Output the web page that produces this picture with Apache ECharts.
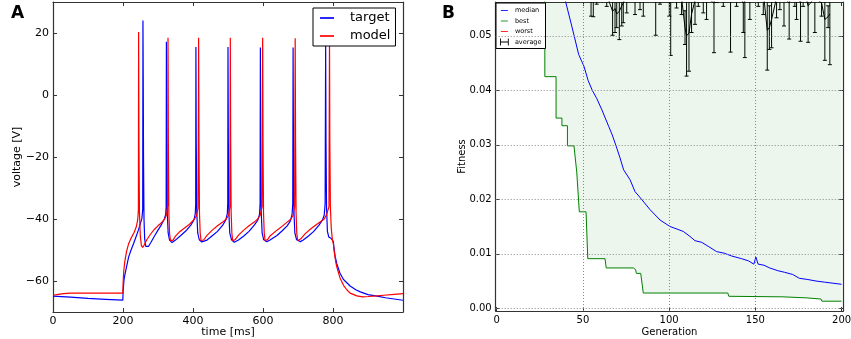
<!DOCTYPE html>
<html>
<head>
<meta charset="utf-8">
<script src="https://cdn.jsdelivr.net/npm/echarts@6.0.0/dist/echarts.min.js"></script>
<style>
  html, body { margin: 0; padding: 0; background: #fff; }
  #chart { width: 851px; height: 339px; }
</style>
</head>
<body>
<div id="chart"></div>
<script>
// panel A: voltage traces, [time ms, voltage]
const targetTrace = [
  [0, -64.9], [50, -65.2], [100, -65.6], [150, -65.9], [199.5, -66.2],
  [200.5, -63], [203, -59.5], [206, -57.6], [210, -55.5], [216, -52.3], [223, -50], [230, -48],
  [237, -45.8], [244, -43.6], [250, -41.3], [254, -39.8], [256.3, -37],
  [257, 24], [257.8, 5], [258.6, -20], [260, -40], [262, -46.5], [265, -48.8], [268.5, -49.3],
  [273, -48.8], [280, -47.5], [290, -45.5], [300, -43.6], [310, -41.8], [318, -40], [322, -38.5], [323.3, -36],
  [324, 17.2], [325, -15], [326.5, -38], [329, -44.5], [333, -46.8], [340, -47.6], [350, -46.8],
  [365, -45.3], [380, -43.8], [395, -41.8], [403, -40.2], [406.5, -38.3], [407.7, -35],
  [408.3, 15.5], [409.3, -15], [410.8, -38], [413.5, -44.5], [418, -46.7], [425, -47.4], [430, -47.5],
  [440, -46.8], [455, -45.4], [470, -44], [485, -42], [494, -40.2], [498, -38.3], [499.3, -35],
  [500, 15.5], [501, -15], [502.5, -38], [505, -44.5], [510, -46.7], [518, -47.5], [530, -46.8],
  [545, -45.5], [560, -44], [575, -42], [585, -40.4], [590, -38.5], [591.7, -35],
  [592.5, 15.3], [593.5, -15], [595, -38], [597.5, -44.5], [602, -46.7], [611, -47.3], [620, -46.8],
  [640, -45.3], [655, -43.8], [669, -42.2], [678, -40.7], [683, -38.5], [685, -35],
  [686, 15.3], [687, -15], [688.5, -38], [691, -44.5], [696, -46.7], [707, -47.3], [715, -46.8],
  [730, -45.5], [745, -44], [760, -42], [770, -40.3], [775, -38.7], [777.5, -35],
  [779, 16], [780, -15], [781.5, -36], [784, -44], [788, -45.8], [795, -46.3], [799, -46.8],
  [801, -47.3], [803, -49.5], [806, -52], [811, -54.5], [820, -57.5], [830, -59.5], [849, -61.6],
  [865, -62.8], [878, -63.5], [900, -64.4], [926, -64.9], [950, -65.4], [975, -65.8], [1000, -66.2]
];
const modelTrace = [
  [0, -64.6], [15, -64.3], [30, -64.05], [50, -63.9], [100, -63.9], [150, -63.9], [199.5, -63.9],
  [200.5, -60], [202, -57], [205, -53.8], [210, -50.5], [216, -48], [224, -46], [232, -44.3],
  [238, -42.5], [242, -40.3], [244, -37],
  [244.6, 20.3], [245.6, -15], [247, -38], [249.5, -45.5], [252.5, -48.5], [256, -49.2], [260, -48.5],
  [268, -46.7], [278, -45], [290, -43.3], [300, -42.2], [310, -41.2], [318, -40.2], [325, -38.5], [327.8, -35],
  [328.6, 18.5], [329.6, -15], [331, -38], [333, -44.5], [335.5, -47], [338, -47.6], [343, -46.8],
  [350, -45.5], [360, -44.3], [375, -43], [390, -41.7], [402, -40.3], [410, -39], [414.5, -36.5],
  [416, 18.5], [417, -15], [418.5, -38], [420.5, -44.5], [423, -47], [426, -47.5], [431, -46.7],
  [440, -45.3], [455, -43.6], [470, -42.2], [485, -41], [495, -40], [502, -38.7], [505.5, -36],
  [506.6, 18.5], [507.6, -15], [509, -38], [511, -44.5], [513.5, -47], [516, -47.4], [521, -46.6],
  [530, -45.2], [545, -43.6], [560, -42.2], [575, -41], [585, -40], [592, -38.8], [597.5, -36],
  [599, 18.5], [600, -15], [601.5, -38], [603.5, -44.5], [606, -47], [608.5, -47.3], [614, -46.5],
  [620, -45.5], [640, -43.6], [655, -42.3], [669, -41], [680, -40], [686, -38.8], [690.5, -36],
  [692, 18.3], [693, -15], [694.5, -38], [696.5, -44.5], [699, -47], [702, -47.3], [708, -46.4],
  [720, -44.8], [735, -43.3], [750, -42], [765, -40.8], [775, -40], [782, -38.5], [788.5, -36],
  [790, 18.5], [791, -15], [792.5, -36], [795, -43], [798, -46.5], [801, -48], [804, -51], [808, -54],
  [811, -55.5], [820, -59], [830, -61.4], [840, -62.9], [849, -63.9], [868, -64.8], [885, -65.1],
  [900, -65], [925, -64.8], [945, -64.6], [975, -64.3], [1000, -64.1]
];
const timeTicks = [0, 200, 400, 600, 800];
const voltTicks = [-60, -40, -20, 0, 20];

// panel B: fitness per generation
const medianGen = [38, 39.6, 43.5, 44.9, 47.5, 49.3, 50.6, 53, 55.4, 58, 61, 64.9, 67, 69.2, 71.5, 73.6,
  77.3, 80.2, 84, 88.9, 94.7, 100.5, 104, 108.2, 112, 115, 118.9, 123, 127.5, 132, 136.2, 142, 146,
  149.1, 150.3, 151.6, 155, 158.3, 163, 167, 171.7, 175.5, 180, 185.2, 190, 195, 200];
const medianVal = [0.0578, 0.0567, 0.0518, 0.0500, 0.0466, 0.0453, 0.0444, 0.0418, 0.0400, 0.0385,
  0.0364, 0.0334, 0.0318, 0.0298, 0.0276, 0.0254, 0.0236, 0.0214, 0.0200, 0.0181, 0.0162, 0.0150,
  0.0146, 0.0141, 0.0132, 0.0124, 0.0121, 0.0113, 0.0104, 0.0101, 0.0096, 0.0091, 0.0087, 0.0081,
  0.0094, 0.0081, 0.0079, 0.0074, 0.0069, 0.0066, 0.0062, 0.0055, 0.0053, 0.0050, 0.0048, 0.0046, 0.0044];
const bestSteps = [
  [27.9, 0.0600], [27.9, 0.0425], [34.4, 0.0425], [34.4, 0.0349], [37.8, 0.0349], [37.8, 0.0335],
  [41, 0.0335], [41, 0.0298], [44.8, 0.0298], [46.4, 0.0250], [47.9, 0.0177], [51.8, 0.0177],
  [52.8, 0.0091], [62.8, 0.0091], [63.5, 0.0074], [79.2, 0.0074], [80.5, 0.0071], [81, 0.0064],
  [83.5, 0.0064], [85, 0.0028], [134, 0.0028], [134.6, 0.0022], [166, 0.0021], [167, 0.0019],
  [180, 0.0019], [181, 0.0017], [188, 0.0017], [188.6, 0.0013], [200, 0.0013]
];
const avgGen = [54.7, 56.0, 58.0, 63.8, 67.2, 68.6, 69.6, 71.1, 72.5, 73.4, 75.4, 80.2, 83.1, 85.0,
  92.2, 94.7, 100.1, 100.9, 104.3, 107.2, 109.2, 110.1, 111.5, 113.0, 115.0, 116.9, 119.8, 121.7,
  126.0, 127.5, 131.4, 135.6, 139.1, 143.0, 143.9, 146.8, 151.7, 154.6, 156.9, 158.1, 159.4, 162.3,
  164.2, 166.6, 169.6, 172.9, 173.9, 176.2, 177.7, 180.6, 184.5, 188.4, 190.3, 192.2, 193.2];
const avgVal = [0.0585, 0.0580, 0.0590, 0.0575, 0.0545, 0.0550, 0.0540, 0.0545, 0.0555, 0.0560,
  0.0580, 0.0585, 0.0575, 0.0580, 0.0570, 0.0590, 0.0580, 0.0565, 0.0585, 0.0570,
  0.0515, 0.0500, 0.0505, 0.0540, 0.0565, 0.0590, 0.0580, 0.0570, 0.0560, 0.0595,
  0.0585, 0.0565, 0.0590, 0.0560, 0.0560, 0.0575, 0.0590, 0.0580, 0.0510, 0.0515,
  0.0530, 0.0570, 0.0585, 0.0570, 0.0560, 0.0590, 0.0575, 0.0560, 0.0590, 0.0555,
  0.0570, 0.0560, 0.0530, 0.0535, 0.0540];
const avgLow = [0.0536, 0.0535, 0.0558, 0.0554, 0.0501, 0.0506, 0.0515, 0.0493, 0.0518, 0.0524,
  0.0542, 0.0539, 0.0548, 0.0536, 0.0501, 0.0558, 0.0536, 0.0464, 0.0551, 0.0539,
  0.0484, 0.0426, 0.0435, 0.0506, 0.0521, 0.0554, 0.0542, 0.0530, 0.0469, 0.0561,
  0.0554, 0.0470, 0.0554, 0.0506, 0.0460, 0.0530, 0.0554, 0.0539, 0.0437, 0.0475,
  0.0478, 0.0533, 0.0548, 0.0518, 0.0494, 0.0554, 0.0530, 0.0490, 0.0554, 0.0488,
  0.0506, 0.0536, 0.0455, 0.0515, 0.0447];
const genTicks = [0, 50, 100, 150, 200];
const fitTicks = [0, 0.01, 0.02, 0.03, 0.04, 0.05];

const FONT = 'DejaVu Sans';
const frame = { show: true, onZero: false, lineStyle: { color: '#333', width: 1.2 } };
// legend icons: a thin bar centred in a taller (invisible) box, and an errorbar glyph
const lineIcon = 'path://M0,0 M0,4.4h10v1.2h-10z M10,10';
const errIcon = 'path://M0,1h1v8h-1z M9,1h1v8h-1z M0,4.5h10v1h-10z';

function axis (grid, pos, min, max, ticks, showLabel, fmt, size) {
  return {
    type: 'value', gridIndex: grid, position: pos, min: min, max: max,
    axisLine: frame,
    axisTick: { show: true, inside: true, length: 4, customValues: ticks, lineStyle: { color: '#333' } },
    axisLabel: {
      show: showLabel, customValues: ticks, margin: 4,
      color: '#000', fontFamily: FONT, fontSize: size, formatter: fmt
    },
    splitLine: { show: false }
  };
}
function named (ax, name, gap, size) {
  ax.name = name;
  ax.nameLocation = 'middle';
  ax.nameGap = gap;
  ax.nameMoveOverlap = false;
  ax.nameTextStyle = { fontFamily: FONT, fontSize: size, color: '#000' };
  return ax;
}
const minus = v => String(v).replace('-', '\u2212');
const fix2 = v => v.toFixed(2);

const myChart = echarts.init(document.getElementById('chart'));

const xA = named(axis(0, 'bottom', 0, 1000, timeTicks, true, minus, 11), 'time [ms]', 15, 11);
const yA = named(axis(0, 'left', -70, 30, voltTicks, true, minus, 11), 'voltage [V]', 30, 11);
const xB = named(axis(1, 'bottom', -0.6, 201, genTicks, true, v => String(v), 10), 'Generation', 16, 10);
const yB = named(axis(1, 'left', -0.0005, 0.0562, fitTicks, true, fix2, 10), 'Fitness', 28, 10);

const gridLines = [];
fitTicks.forEach(v => gridLines.push({ yAxis: v }));
[50, 100, 150].forEach(v => gridLines.push({ xAxis: v }));

const option = {
  animation: false,
  backgroundColor: '#fff',
  title: [
    { text: 'A', left: 11, top: 5, padding: 0, textStyle: { fontFamily: FONT, fontSize: 17, fontWeight: 'bold', color: '#000' } },
    { text: 'B', left: 442, top: 5, padding: 0, textStyle: { fontFamily: FONT, fontSize: 17, fontWeight: 'bold', color: '#000' } }
  ],
  grid: [
    { left: 53, top: 2, width: 350, height: 310, outerBoundsMode: 'none', containLabel: false },
    { left: 495.7, top: 2, width: 347.6, height: 309, outerBoundsMode: 'none', containLabel: false }
  ],
  legend: [
    {
      data: [{ name: 'target', icon: lineIcon }, { name: 'model', icon: lineIcon }],
      orient: 'vertical', left: 313, top: 8,
      itemWidth: 20, itemHeight: 14, itemGap: 4, padding: [3, 5, 3, 7],
      borderColor: '#000', borderWidth: 1, backgroundColor: '#fff',
      textStyle: { fontFamily: FONT, fontSize: 13, color: '#000', padding: [0, 0, 0, 8] }
    },
    {
      data: [{ name: 'median', icon: lineIcon }, { name: 'best', icon: lineIcon },
        { name: 'worst', icon: lineIcon }, { name: 'average', icon: errIcon }],
      orient: 'vertical', left: 496, top: 3,
      itemWidth: 11, itemHeight: 7, itemGap: 3.5, padding: [4, 4, 3, 4],
      borderColor: '#000', borderWidth: 1, backgroundColor: '#fff',
      textStyle: { fontFamily: FONT, fontSize: 6.5, color: '#000', lineHeight: 7 }
    }
  ],
  xAxis: [
    xA,
    axis(0, 'top', 0, 1000, timeTicks, false, minus, 11),
    xB,
    axis(1, 'top', -0.6, 201, genTicks, false, null, 10)
  ],
  yAxis: [
    yA,
    axis(0, 'right', -70, 30, voltTicks, false, minus, 11),
    yB,
    axis(1, 'right', -0.0005, 0.0562, fitTicks, false, null, 10)
  ],
  series: [
    {
      name: 'target', type: 'line', xAxisIndex: 0, yAxisIndex: 0, data: targetTrace,
      symbol: 'none', lineStyle: { color: '#0000ff', width: 1.2 }, itemStyle: { color: '#0000ff' }
    },
    {
      name: 'model', type: 'line', xAxisIndex: 0, yAxisIndex: 0, data: modelTrace,
      symbol: 'none', lineStyle: { color: '#ff0000', width: 1.2 }, itemStyle: { color: '#ff0000' }
    },
    {
      name: 'best', type: 'line', xAxisIndex: 2, yAxisIndex: 2, data: bestSteps,
      symbol: 'none', lineStyle: { color: '#008000', width: 1 }, itemStyle: { color: '#008000' },
      areaStyle: { origin: 'end', color: 'rgba(0,128,0,0.1)' },
      markLine: {
        silent: true, symbol: ['none', 'none'], label: { show: false },
        lineStyle: { color: '#888', type: [1, 2], width: 1 },
        data: gridLines
      }
    },
    {
      name: 'median', type: 'line', xAxisIndex: 2, yAxisIndex: 2,
      data: medianGen.map((g, i) => [g, medianVal[i]]),
      symbol: 'none', lineStyle: { color: '#0000ff', width: 1 }, itemStyle: { color: '#0000ff' }
    },
    {
      name: 'worst', type: 'line', xAxisIndex: 2, yAxisIndex: 2, data: [],
      symbol: 'none', lineStyle: { color: '#ff0000', width: 1 }, itemStyle: { color: '#ff0000' }
    },
    {
      name: 'average', type: 'line', xAxisIndex: 2, yAxisIndex: 2,
      data: avgGen.map((g, i) => [g, avgVal[i]]),
      symbol: 'none', lineStyle: { color: '#000', width: 1 }, itemStyle: { color: '#000' }
    },
    {
      name: 'average', type: 'custom', xAxisIndex: 2, yAxisIndex: 2, clip: true,
      itemStyle: { color: '#000' },
      data: avgGen.map((g, i) => [g, avgLow[i], avgVal[i]]),
      encode: { x: 0, y: 1 },
      renderItem: function (params, api) {
        const g = api.value(0);
        const lo = api.value(1);
        const hi = 2 * api.value(2) - lo;
        const pLo = api.coord([g, lo]);
        const pHi = api.coord([g, hi]);
        const st = { stroke: '#000', lineWidth: 1 };
        return {
          type: 'group',
          children: [
            { type: 'line', shape: { x1: pLo[0], y1: pLo[1], x2: pHi[0], y2: pHi[1] }, style: st },
            { type: 'line', shape: { x1: pLo[0] - 2, y1: pLo[1], x2: pLo[0] + 2, y2: pLo[1] }, style: st },
            { type: 'line', shape: { x1: pHi[0] - 2, y1: pHi[1], x2: pHi[0] + 2, y2: pHi[1] }, style: st }
          ]
        };
      }
    }
  ]
};
myChart.setOption(option);
</script>
</body>
</html>
